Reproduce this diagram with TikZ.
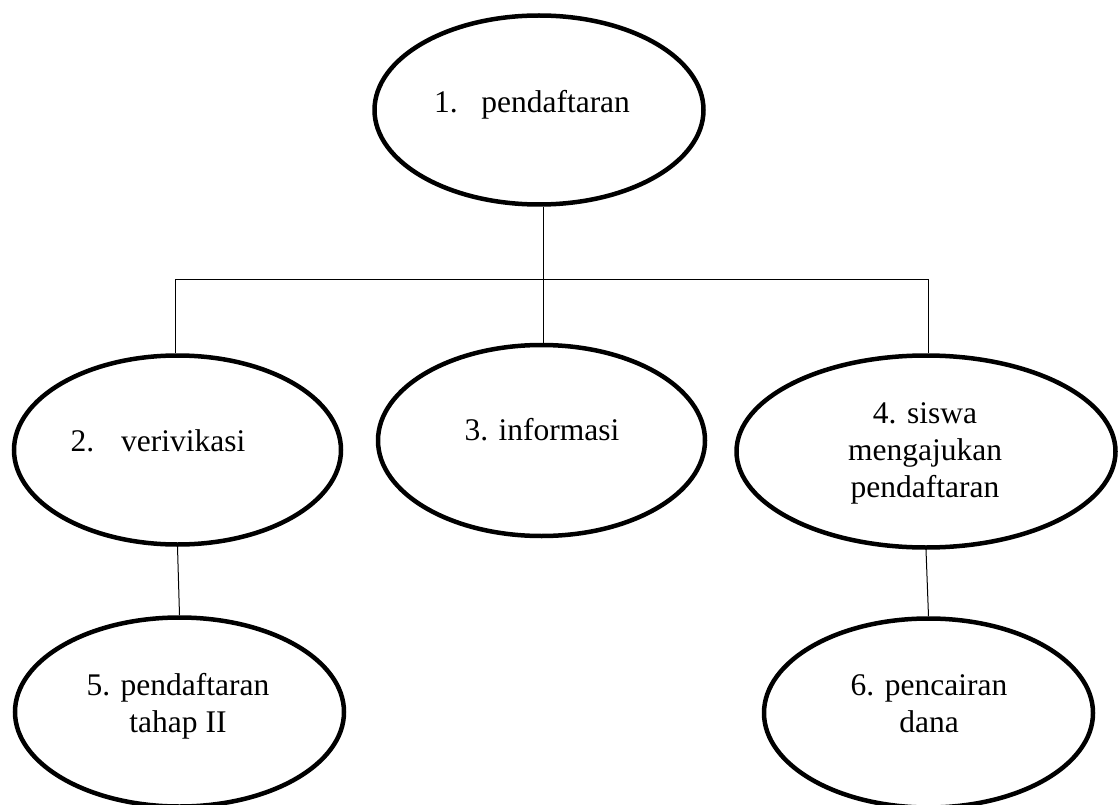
\documentclass[tikz,border=0pt]{standalone}
\usepackage{fontspec}
\setmainfont{Liberation Serif}
\usetikzlibrary{shapes.geometric}
\begin{document}
\begin{tikzpicture}[x=1pt,y=-1pt,
  oval/.style={draw, ellipse, line width=4.5pt, inner sep=0pt},
  lbl/.style={anchor=base, inner sep=0pt, font=\fontsize{31.5}{37}\selectfont},
  conn/.style={line width=1pt}]
\useasboundingbox (0,0) rectangle (1119,805);
% ellipses
\node[oval, minimum width=329, minimum height=189] (e1) at (539,110) {};
\node[oval, minimum width=327, minimum height=189] (e2) at (177.5,450) {};
\node[oval, minimum width=327, minimum height=191] (e3) at (541.5,440.5) {};
\node[oval, minimum width=379, minimum height=192] (e4) at (926,451.5) {};
\node[oval, minimum width=329, minimum height=189] (e5) at (179.5,712) {};
\node[oval, minimum width=329, minimum height=189] (e6) at (928.5,713) {};
% labels
\node[lbl] (t1) at (532,113) {1.\hspace{0.75em}pendaftaran};
\node[lbl] (t2) at (158,451) {2.\hspace{0.85em}verivikasi};
\node[lbl] (t3) at (542,440) {3. informasi};
\node[lbl] (t4a) at (925,423) {4. siswa};
\node[lbl] (t4b) at (925,460) {mengajukan};
\node[lbl] (t4c) at (925,497) {pendaftaran};
\node[lbl] (t5a) at (178,695) {5. pendaftaran};
\node[lbl] (t5b) at (178,732) {tahap II};
\node[lbl] (t6a) at (929,695) {6. pencairan};
\node[lbl] (t6b) at (929,732) {dana};
% connectors
\coordinate (hl) at (175,279);
\coordinate (hm) at (543,279);
\coordinate (hr) at (928,279);
\draw[conn] (hm |- e1.south) -- (hm);
\draw[conn] (hl) -- (hr);
\draw[conn] (hl) -- (hl |- e2.north);
\draw[conn] (hm) -- (hm |- e3.north);
\draw[conn] (hr) -- (hr |- e4.north);
\draw[conn] (e2.south) -- (e5.north);
\draw[conn] (e4.south) -- (e6.north);
\end{tikzpicture}
\end{document}
